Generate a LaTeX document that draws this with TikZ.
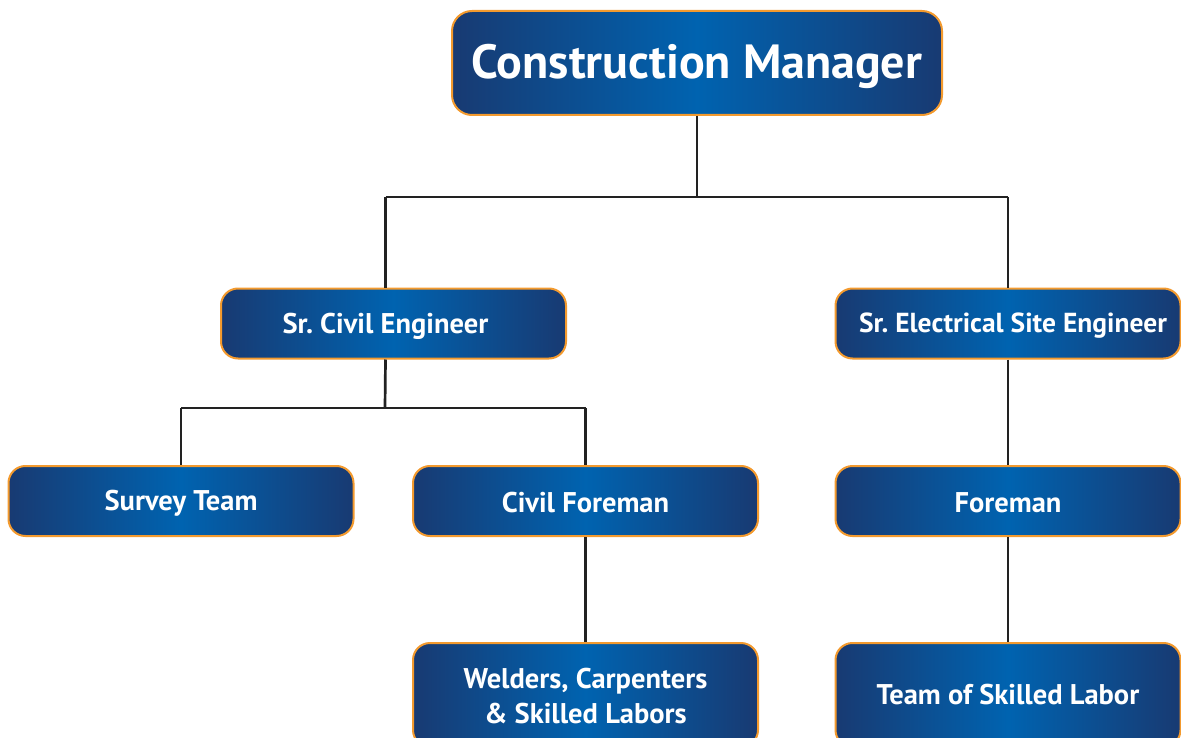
\documentclass[tikz,border=0pt]{standalone}
\usepackage{fontspec}
\setmainfont{PT Sans}
\frenchspacing
\definecolor{navyE}{HTML}{183A72}
\definecolor{blueC}{HTML}{0063B0}
\definecolor{orangeB}{HTML}{F39A2E}
\definecolor{lineC}{HTML}{222222}
\begin{document}
\begin{tikzpicture}[x=1pt,y=-1pt,
  box/.style={draw=orangeB, line width=2pt, rounded corners=17pt,
    left color=navyE, right color=navyE, middle color=blueC,
    minimum width=345pt, minimum height=70pt, inner sep=0pt},
  txt/.style={text=white, font=\bfseries\fontsize{28.5}{35}\selectfont, align=center, inner sep=0pt},
  conn/.style={draw=lineC, line width=2.7pt}]
\useasboundingbox (0,0) rectangle (1181,738);
% boxes
\node[box, minimum width=490pt, minimum height=104pt, rounded corners=20pt] (cmb) at (697,63) {};
\node[box] (sceb) at (393.5,323.5) {};
\node[box] (seeb) at (1008,323.5) {};
\node[box] (stb) at (181,501) {};
\node[box] (cfb) at (585.5,501) {};
\node[box] (fmb) at (1008,501) {};
\node[box, minimum height=104pt] (wcb) at (585.5,695) {};
\node[box, minimum height=104pt] (tsb) at (1008,695) {};
% texts
\node[txt, font=\bfseries\fontsize{48}{54}\selectfont] (cm) at (697,66) {Construction Manager};
\node[txt] (sce) at (385.5,326) {Sr. Civil Engineer};
\node[txt, font=\bfseries\fontsize{27.5}{35}\selectfont] (see) at (1013,326) {Sr. Electrical Site Engineer};
\node[txt] (st) at (181,503) {Survey Team};
\node[txt] (cf) at (585.5,503) {Civil Foreman};
\node[txt] (fm) at (1008,503) {Foreman};
\node[txt] (wc) at (585.5,696) {Welders, Carpenters\\\& Skilled Labors};
\node[txt] (ts) at (1008,695) {Team of Skilled Labor};
% junctions
\coordinate (j1) at (697,197);
\coordinate (j2) at (385,408);
% connectors
\draw[conn] (cmb.south) -- (j1);
\draw[conn] (j1 -| sce) -- (j1 -| fm);
\draw[conn] (j1 -| sce) -- (sce |- sceb.north);
\draw[conn] (j1 -| fm) -- (fm |- seeb.north);
\draw[conn] (sce |- sceb.south) -- (j2);
\draw[conn] (j2 -| st) -- (j2 -| cf);
\draw[conn] (j2 -| st) -- (stb.north);
\draw[conn] (j2 -| cf) -- (cfb.north);
\draw[conn] (cfb.south) -- (wcb.north);
\draw[conn] (fmb.south) -- (tsb.north);
\draw[conn] (seeb.south) -- (fmb.north);
\end{tikzpicture}
\end{document}
